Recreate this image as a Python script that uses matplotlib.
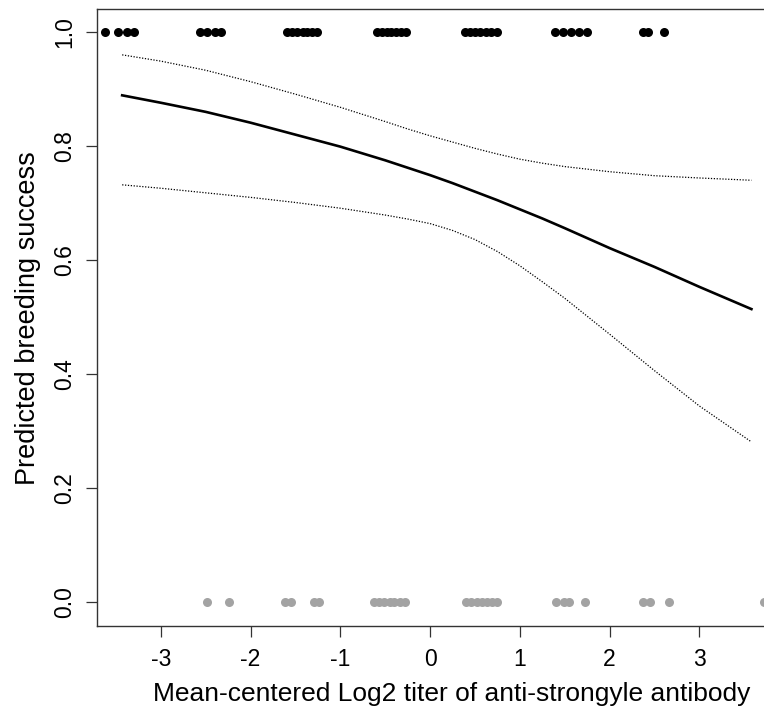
import matplotlib.pyplot as plt
import numpy as np

plt.rcParams['font.family'] = ['Liberation Sans', 'DejaVu Sans']
plt.rcParams['axes.unicode_minus'] = False

# fitted curve and 95% band
curve_x = [-3.43, -3.0, -2.5, -2.0, -1.5, -1.0, -0.5, -0.25, 0.0, 0.25,
           0.5, 0.75, 1.0, 1.25, 1.5, 2.0, 2.5, 3.0, 3.58]
fit_y = [0.889, 0.876, 0.860, 0.841, 0.820, 0.799, 0.775, 0.762, 0.749, 0.735,
         0.720, 0.705, 0.689, 0.673, 0.656, 0.621, 0.588, 0.553, 0.514]
upper_y = [0.960, 0.949, 0.933, 0.913, 0.891, 0.868, 0.843, 0.830, 0.818, 0.807,
           0.796, 0.786, 0.777, 0.770, 0.764, 0.755, 0.748, 0.744, 0.740]
lower_y = [0.732, 0.726, 0.718, 0.710, 0.701, 0.691, 0.679, 0.672, 0.664, 0.652,
           0.636, 0.615, 0.590, 0.562, 0.533, 0.470, 0.406, 0.344, 0.281]

# observed birds: successful (1) and unsuccessful (0)
success_x = [-3.62, -3.48, -3.38, -3.30,
             -2.56, -2.48, -2.40, -2.33,
             -1.59, -1.54, -1.48, -1.42, -1.37, -1.31, -1.26,
             -0.59, -0.54, -0.48, -0.43, -0.38, -0.32, -0.27,
             0.39, 0.44, 0.50, 0.56, 0.62, 0.68, 0.75,
             1.39, 1.48, 1.57, 1.66, 1.75,
             2.37, 2.43, 2.61]
fail_x = [-2.48, -2.24,
          -1.62, -1.55, -1.29, -1.24,
          -0.62, -0.57, -0.51, -0.45, -0.40, -0.34, -0.28,
          0.40, 0.46, 0.52, 0.58, 0.63, 0.69, 0.75,
          1.40, 1.49, 1.55, 1.73,
          2.37, 2.45, 2.66,
          3.72]

fig = plt.figure(figsize=(7.64, 7.11), dpi=100)
ax = fig.add_axes([0.127, 0.1195, 0.873, 0.8675])

ax.plot(curve_x, fit_y, color='black', lw=1.9, solid_joinstyle='round')
ax.plot(curve_x, upper_y, color='black', lw=0.9, linestyle=(0, (1, 1.3)))
ax.plot(curve_x, lower_y, color='black', lw=0.9, linestyle=(0, (1, 1.3)))

ax.plot(success_x, np.ones(len(success_x)), 'o', color='black', ms=6.5,
        mec='none', clip_on=False)
ax.plot(fail_x, np.zeros(len(fail_x)), 'o', color='#a3a3a3', ms=6.5,
        mec='none')

ax.set_xlim(-3.71, 3.72)
ax.set_ylim(-0.042, 1.04)
ax.set_xticks([-3, -2, -1, 0, 1, 2, 3])
ax.set_yticks([0.0, 0.2, 0.4, 0.6, 0.8, 1.0])
ax.set_yticklabels(['0.0', '0.2', '0.4', '0.6', '0.8', '1.0'], rotation=90,
                   va='center')

for side in ['left', 'bottom', 'top']:
    ax.spines[side].set_color('#333333')
    ax.spines[side].set_linewidth(1.0)
ax.spines['right'].set_visible(False)

ax.tick_params(axis='x', length=8, width=0.9, color='#333333',
               labelsize=16.5, pad=8)
ax.tick_params(axis='y', length=8, width=0.9, color='#333333',
               labelsize=16.5, pad=7)

ax.set_xlabel('Mean-centered Log2 titer of anti-strongyle antibody',
              fontsize=19, labelpad=10)
# R centres the label on the full plot region, which runs past the crop
ax.xaxis.set_label_coords(0.532, -0.09)
ax.set_ylabel('Predicted breeding success', fontsize=19.5, labelpad=9)

fig.savefig('out.png', dpi=100)
